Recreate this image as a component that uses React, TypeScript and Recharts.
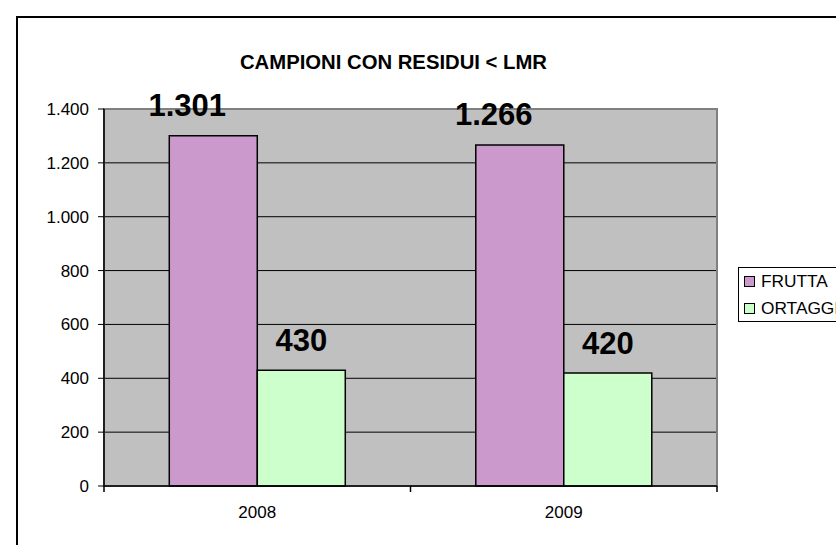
import React from 'react';
import { BarChart, Bar, XAxis, YAxis, CartesianGrid, Legend, LabelList, ReferenceArea } from 'recharts';

const years = ['2008', '2009'];
const frutta = [1301, 1266];
const ortaggi = [430, 420];
const yTicks = [0, 200, 400, 600, 800, 1000, 1200, 1400];
const title = 'CAMPIONI CON RESIDUI < LMR';

const data = years.map((y, i) => ({ year: y, FRUTTA: frutta[i], ORTAGGI: ortaggi[i] }));

const fmt = (v: number) => String(v).replace(/\B(?=(\d{3})+(?!\d))/g, '.');

const makeLabel = (dx: number, lift: number) => (props: any) => {
  const { x, y, width, value } = props;
  return (
    <text
      x={Number(x) + Number(width) / 2 + dx}
      y={Number(y) - lift}
      textAnchor="middle"
      fontSize={31}
      fontWeight="bold"
      fill="#000"
    >
      {fmt(Number(value))}
    </text>
  );
};

const FruttaLabel = makeLabel(-26, 20);
const OrtaggiLabel = makeLabel(0, 19);

const XTick = (props: any) => {
  const { x, y, payload, index } = props;
  const half = payload && typeof payload.offset === 'number' && payload.offset > 0 ? payload.offset : 153.25;
  const axisY = Number(y) - 14;
  return (
    <g>
      <line x1={x - half} x2={x - half} y1={axisY} y2={axisY + 6} stroke="#000" strokeWidth={1.5} />
      {index === years.length - 1 && (
        <line x1={x + half} x2={x + half} y1={axisY} y2={axisY + 6} stroke="#000" strokeWidth={1.5} />
      )}
      <text x={x} y={axisY + 32} textAnchor="middle" fontSize={17} fill="#000">
        {payload.value}
      </text>
    </g>
  );
};

const LegendBox = (props: any) => {
  const { payload } = props;
  return (
    <div
      style={{
        border: '1px solid #000',
        background: '#fff',
        width: 120,
        height: 55,
        boxSizing: 'border-box',
        position: 'relative',
      }}
    >
      {(payload || []).map((p: any, i: number) => (
        <div
          key={p.value}
          style={{
            position: 'absolute',
            left: 5,
            top: 7 + i * 27,
            height: 12,
            display: 'flex',
            alignItems: 'center',
            whiteSpace: 'nowrap',
          }}
        >
          <span
            style={{
              width: 9,
              height: 9,
              border: '1.5px solid #000',
              background: p.color,
              display: 'inline-block',
              marginRight: 6,
            }}
          />
          <span style={{ fontSize: 17.3, lineHeight: '17px', color: '#000' }}>{p.value}</span>
        </div>
      ))}
    </div>
  );
};

export default function App() {
  return (
    <div
      style={{
        position: 'absolute',
        left: 0,
        top: 0,
        width: 836,
        height: 545,
        overflow: 'hidden',
        background: '#fff',
        fontFamily: '"Liberation Sans", Arial, sans-serif',
      }}
    >
      <div
        style={{
          position: 'absolute',
          left: 16,
          top: 16,
          width: 900,
          height: 700,
          border: '2px solid #000',
        }}
      />
      <div
        style={{
          position: 'absolute',
          left: 0,
          width: 787,
          top: 52,
          textAlign: 'center',
          fontSize: 20.3,
          fontWeight: 'bold',
          lineHeight: '20px',
          color: '#000',
        }}
      >
        {title}
      </div>
      <div style={{ position: 'absolute', left: 0, top: 0 }}>
        <BarChart
          width={836}
          height={545}
          data={data}
          margin={{ top: 109, right: 119, bottom: 29, left: 44 }}
          barCategoryGap="21.3%"
          barGap={0}
        >
          <CartesianGrid vertical={false} stroke="#000" fill="#C0C0C0" fillOpacity={1} />
          <ReferenceArea y1={0} y2={1400} fill="none" stroke="#808080" strokeWidth={2} />
          <Bar dataKey="FRUTTA" fill="#CC99CC" stroke="#000" strokeWidth={1.5} isAnimationActive={false}>
            <LabelList dataKey="FRUTTA" content={FruttaLabel} />
          </Bar>
          <Bar dataKey="ORTAGGI" fill="#CCFFCC" stroke="#000" strokeWidth={1.5} isAnimationActive={false}>
            <LabelList dataKey="ORTAGGI" content={OrtaggiLabel} />
          </Bar>
          <XAxis
            dataKey="year"
            height={30}
            axisLine={{ stroke: '#000', strokeWidth: 1.5 }}
            tickLine={{ stroke: 'none' }}
            tickSize={6}
            tickMargin={8}
            tick={<XTick />}
            interval={0}
          />
          <YAxis
            width={60}
            domain={[0, 1400]}
            ticks={yTicks}
            interval={0}
            tickFormatter={fmt}
            axisLine={{ stroke: '#000', strokeWidth: 1.5 }}
            tickLine={{ stroke: '#000' }}
            tickSize={6}
            tickMargin={9}
            tick={{ fontSize: 17, fill: '#000' }}
          />
          <Legend
            layout="vertical"
            align="center"
            verticalAlign="middle"
            wrapperStyle={{ left: 738, top: 267, width: 120, height: 55 }}
            content={LegendBox}
          />
        </BarChart>
      </div>
    </div>
  );
}
